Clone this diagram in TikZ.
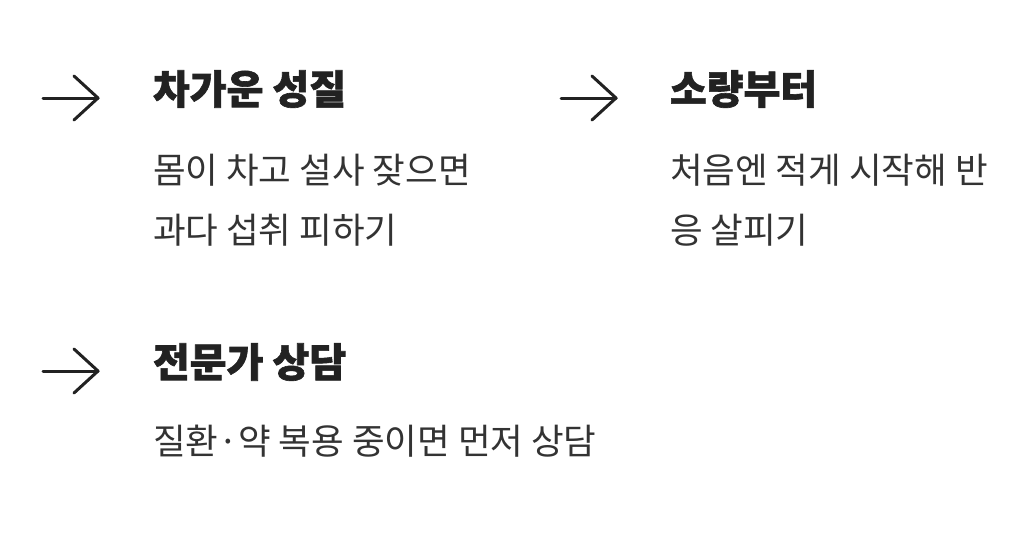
\documentclass[tikz,border=0pt]{standalone}
\usepackage{fontspec}
\newfontfamily\krtitle[FakeBold=1.5]{Noto Sans CJK KR Black}
\newfontfamily\krbody{Noto Sans CJK KR}
\usetikzlibrary{positioning}
\definecolor{inkdark}{RGB}{34,34,34}
\definecolor{inkbody}{RGB}{51,51,51}
\tikzset{
  tipline/.style={line width=3pt, inkdark, line cap=round, line join=round},
  headtext/.style={inner sep=0, outer sep=0, anchor=base west, inkdark, font=\krtitle\fontsize{40pt}{40pt}\selectfont},
  bodytext/.style={inner sep=0, outer sep=0, anchor=base west, inkbody, font=\krbody\fontsize{35.5pt}{35.5pt}\selectfont}
}
\newcommand\tipmark[2]{%
  \draw[tipline] (#1-55,#2) -- (#1,#2);
  \draw[tipline] (#1-24,#2-22) -- (#1,#2) -- (#1-24,#2+22);}
\begin{document}
\begin{tikzpicture}[x=1pt,y=-1pt]
  \useasboundingbox (0,0) rectangle (1030,536);
  % first item
  \tipmark{98}{98}
  \node[headtext] (headA) at (153,104) {차가운 성질};
  \node[bodytext] (bodyA1) at (153,183) {몸이 차고 설사 잦으면};
  \node[bodytext] (bodyA2) at (153,243) {과다 섭취 피하기};
  % second item
  \tipmark{616}{98}
  \node[headtext] (headB) at (670,104) {소량부터};
  \node[bodytext] (bodyB1) at (670,183) {처음엔 적게 시작해 반};
  \node[bodytext] (bodyB2) at (670,243) {응 살피기};
  % third item
  \tipmark{98}{371}
  \node[headtext] (headC) at (153,377) {전문가 상담};
  \node[bodytext] (bodyC1) at (153,454) {질환·약 복용 중이면 먼저 상담};
\end{tikzpicture}
\end{document}
